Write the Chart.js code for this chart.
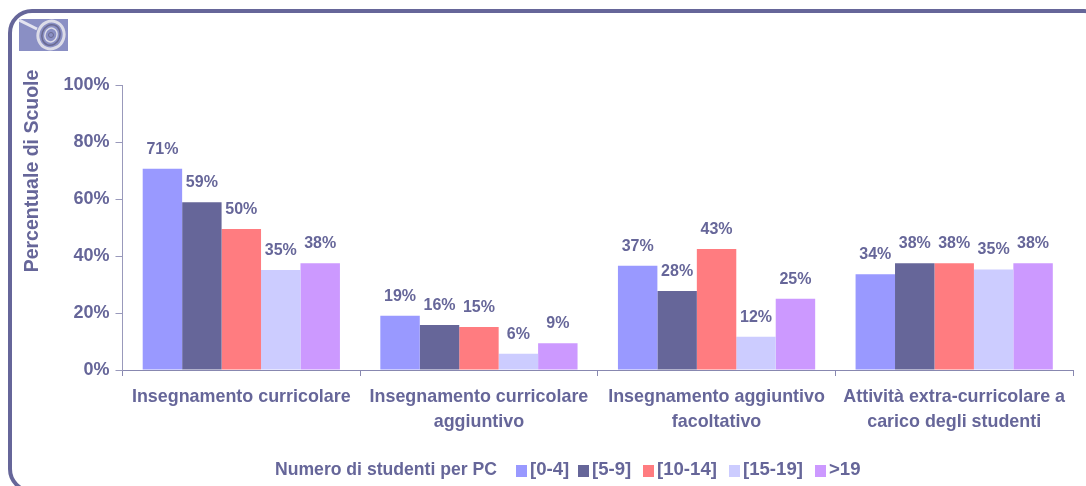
<!DOCTYPE html>
<html><head><meta charset="utf-8">
<style>
html,body{margin:0;padding:0;background:#fff;overflow:hidden;width:1086px;height:486px}
#frame{position:absolute;left:8px;top:9px;width:1100px;height:484px;border:4px solid #666699;border-radius:24px;box-sizing:border-box}
#icon{position:absolute;left:19px;top:19px}
#wrap{position:absolute;left:0;top:0;width:1086px;height:486px}
</style>
<script src="https://cdn.jsdelivr.net/npm/chart.js@4"></script>
</head><body>
<div id="frame"></div>
<div id="wrap"><canvas id="c" width="1086" height="486"></canvas></div>
<svg id="icon" width="49" height="32" viewBox="0 0 49 32">
<rect width="49" height="32" fill="#8a8fc4"/>
<path d="M0 1L18 10" stroke="#e4e4f0" stroke-width="3"/>
<ellipse cx="32" cy="16" rx="13" ry="14" fill="none" stroke="#dcdce8" stroke-width="3" transform="rotate(20 32 16)"/>
<ellipse cx="32" cy="16" rx="9" ry="10.5" fill="none" stroke="#6a6a90" stroke-width="1.5" transform="rotate(20 32 16)"/>
<ellipse cx="32" cy="16" rx="6" ry="7" fill="none" stroke="#dcdce8" stroke-width="1.5" transform="rotate(20 32 16)"/>
<circle cx="32" cy="16" r="2.5" fill="none" stroke="#6a6a90" stroke-width="1"/>
</svg>
<script>
const categories = [["Insegnamento curricolare"],["Insegnamento curricolare","aggiuntivo"],["Insegnamento aggiuntivo","facoltativo"],["Attività extra-curricolare a","carico degli studenti"]];
const seriesNames = ["[0-4]","[5-9]","[10-14]","[15-19]",">19"];
const seriesColors = ["#9999FF","#666699","#FF7C80","#CCCCFF","#CC99FF"];
const s04 = [70.6,19,36.6,33.6];
const s59 = [58.9,15.8,27.7,37.5];
const s1014 = [49.5,15.1,42.5,37.5];
const s1519 = [35.1,5.7,11.7,35.3];
const s19 = [37.5,9.4,25,37.5];
const seriesValues = [s04,s59,s1014,s1519,s19];
const yTicks = [0,20,40,60,80,100];
const legendTitle = "Numero di studenti per PC";
const yTitle = "Percentuale di Scuole";
const INK = "#666699";
const FONT = '"Liberation Sans", Arial, sans-serif';

const extras = {
  id:'extras',
  afterDatasetsDraw(chart){
    const ctx = chart.ctx;
    ctx.save();
    ctx.fillStyle = INK;
    ctx.font = 'bold 16px '+FONT;
    ctx.textAlign='center'; ctx.textBaseline='middle';
    chart.data.datasets.forEach((ds,i)=>{
      chart.getDatasetMeta(i).data.forEach((bar,j)=>{
        ctx.fillText(Math.round(ds.data[j])+'%', bar.x, bar.y-19.5);
      });
    });
    ctx.save();
    ctx.translate(33,171); ctx.rotate(-Math.PI/2);
    ctx.font='bold 19.5px '+FONT;
    ctx.fillText(yTitle,0,0);
    ctx.restore();
    ctx.font='bold 17.6px '+FONT;
    ctx.textAlign='left';
    const ly=470;
    ctx.fillText(legendTitle,275,ly);
    ctx.font='bold 18.6px '+FONT;
    const boxes=[516,578,643,729,815];
    seriesNames.forEach((n,i)=>{
      ctx.fillStyle=seriesColors[i];
      ctx.fillRect(boxes[i],ly-5,11,12);
      ctx.fillStyle=INK;
      ctx.fillText(n,boxes[i]+14,ly);
    });
    ctx.restore();
  }
};

new Chart(document.getElementById('c'),{
  type:'bar',
  data:{labels:categories,datasets:seriesNames.map((n,i)=>({label:n,data:seriesValues[i],backgroundColor:seriesColors[i],borderWidth:0,categoryPercentage:0.83,barPercentage:1}))},
  options:{
    responsive:false,animation:false,
    layout:{padding:{top:85,right:13,bottom:0,left:0}},
    plugins:{legend:{display:false},tooltip:{enabled:false}},
    scales:{
      x:{
        afterFit(s){s.height=116;},
        border:{color:"#8888B0",width:1},
        grid:{display:true,offset:true,drawOnChartArea:false,drawTicks:true,tickLength:6,color:"#8888B0"},
        ticks:{color:INK,font:{family:FONT,size:17.9,weight:'bold',lineHeight:1.38},padding:9,maxRotation:0,autoSkip:false}
      },
      y:{
        min:0,max:100,
        afterFit(s){s.width=122.5;},
        afterBuildTicks(s){s.ticks=yTicks.map(v=>({value:v}));},
        border:{color:"#9999BB",width:1},
        grid:{display:true,drawOnChartArea:false,drawTicks:true,tickLength:7,color:"#9999BB"},
        ticks:{color:INK,font:{family:FONT,size:18,weight:'bold'},padding:6,callback:v=>v+'%'}
      }
    }
  },
  plugins:[extras]
});
</script>
</body></html>
